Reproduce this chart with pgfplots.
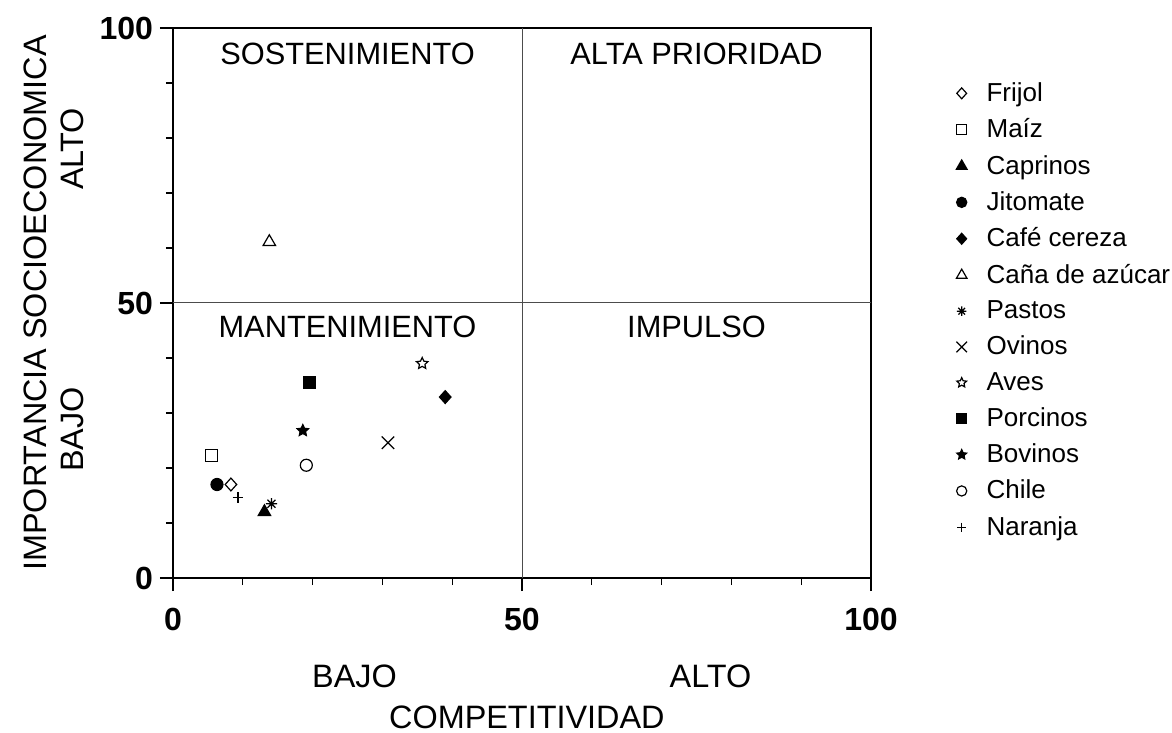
\documentclass[border=0pt]{standalone}
\usepackage{fontspec}
\setmainfont{Liberation Sans}
\usepackage{pgfplots}
\pgfplotsset{compat=1.18}
\usetikzlibrary{plotmarks}

% asterisk with eight arms (+ and x)
\pgfdeclareplotmark{eightstar}{%
  \pgfpathmoveto{\pgfqpoint{-\pgfplotmarksize}{0pt}}\pgfpathlineto{\pgfqpoint{\pgfplotmarksize}{0pt}}%
  \pgfpathmoveto{\pgfqpoint{0pt}{-\pgfplotmarksize}}\pgfpathlineto{\pgfqpoint{0pt}{\pgfplotmarksize}}%
  \pgfpathmoveto{\pgfqpoint{-.7071\pgfplotmarksize}{-.7071\pgfplotmarksize}}\pgfpathlineto{\pgfqpoint{.7071\pgfplotmarksize}{.7071\pgfplotmarksize}}%
  \pgfpathmoveto{\pgfqpoint{-.7071\pgfplotmarksize}{.7071\pgfplotmarksize}}\pgfpathlineto{\pgfqpoint{.7071\pgfplotmarksize}{-.7071\pgfplotmarksize}}%
  \pgfusepathqstroke}

% closed five-pointed star, filled with the fill colour
\pgfdeclareplotmark{fivestar}{%
  \pgfpathmoveto{\pgfpointpolar{90}{\pgfplotmarksize}}%
  \pgfpathlineto{\pgfpointpolar{126}{0.48\pgfplotmarksize}}%
  \pgfpathlineto{\pgfpointpolar{162}{\pgfplotmarksize}}%
  \pgfpathlineto{\pgfpointpolar{198}{0.48\pgfplotmarksize}}%
  \pgfpathlineto{\pgfpointpolar{234}{\pgfplotmarksize}}%
  \pgfpathlineto{\pgfpointpolar{270}{0.48\pgfplotmarksize}}%
  \pgfpathlineto{\pgfpointpolar{306}{\pgfplotmarksize}}%
  \pgfpathlineto{\pgfpointpolar{342}{0.48\pgfplotmarksize}}%
  \pgfpathlineto{\pgfpointpolar{18}{\pgfplotmarksize}}%
  \pgfpathlineto{\pgfpointpolar{54}{0.48\pgfplotmarksize}}%
  \pgfpathclose
  \pgfusepathqfillstroke}

\begin{document}
\begin{tikzpicture}
\begin{axis}[
  scale only axis, width=349pt, height=275pt,
  xmin=0, xmax=100, ymin=0, ymax=100,
  xtick={0,50,100}, ytick={0,50,100},
  minor x tick num=4, minor y tick num=4,
  tick pos=left, tick align=outside,
  major tick length=6.5pt, minor tick length=3.5pt,
  axis line style={line width=0.75pt},
  every tick/.style={line width=0.6pt, black},
  ticklabel style={font=\fontsize{16}{19}\selectfont\bfseries},
  xticklabel style={yshift=-5pt},
  /pgf/number format/assume math mode=true,
  clip=false,
  legend cell align=left,
  legend style={at={(1,1)}, anchor=north west, xshift=39.5pt, yshift=-23pt,
    draw=none, fill=none, font=\fontsize{13}{15.6}\selectfont,
    row sep=3.2pt, column sep=7.8pt},
  legend image post style={scale=0.85},
  every axis plot/.append style={only marks, black, mark size=3pt, line width=0.6pt},
]
\draw[line width=0.5pt, black!70] (axis cs:50,0) -- (axis cs:50,100);
\draw[line width=0.5pt, black!70] (axis cs:0,50) -- (axis cs:100,50);

\addplot[mark=diamond, mark size=3.2pt, mark options={fill=white, xscale=1.2}] coordinates {(8.3,17.0)};
\addlegendentry{Frijol}
\addplot[mark=square, mark options={fill=white}] coordinates {(5.5,22.2)};
\addlegendentry{Maíz}
\addplot[mark=triangle*, mark size=3.6pt] coordinates {(13.1,12.0)};
\addlegendentry{Caprinos}
\addplot[mark=*] coordinates {(6.3,17.0)};
\addlegendentry{Jitomate}
\addplot[mark=diamond*, mark size=3.2pt, mark options={xscale=1.2}] coordinates {(39.0,32.9)};
\addlegendentry{Café cereza}
\addplot[mark=triangle, mark size=3.6pt, mark options={fill=white}] coordinates {(13.8,61.1)};
\addlegendentry{Caña de azúcar}
\addplot[mark=eightstar, mark size=2.8pt] coordinates {(14.1,13.5)};
\addlegendentry{Pastos}
\addplot[mark=x, mark size=4.4pt] coordinates {(30.8,24.6)};
\addlegendentry{Ovinos}
\addplot[mark=fivestar, mark options={fill=white}] coordinates {(35.7,39.0)};
\addlegendentry{Aves}
\addplot[mark=square*] coordinates {(19.5,35.5)};
\addlegendentry{Porcinos}
\addplot[mark=fivestar, mark options={fill=black}] coordinates {(18.6,26.8)};
\addlegendentry{Bovinos}
\addplot[mark=o, mark options={fill=white}] coordinates {(19.1,20.5)};
\addlegendentry{Chile}
\addplot[mark=+, mark size=2.7pt] coordinates {(9.3,14.6)};
\addlegendentry{Naranja}

\begin{scope}[every node/.style={font=\fontsize{15.4}{18}\selectfont}]
\node at (axis cs:25,95.2) {SOSTENIMIENTO};
\node at (axis cs:75,95.2) {ALTA PRIORIDAD};
\node at (axis cs:25,45.6) {MANTENIMIENTO};
\node at (axis cs:75,45.6) {IMPULSO};
\end{scope}

\begin{scope}[every node/.style={font=\fontsize{16.2}{19}\selectfont}]
\node at ([yshift=-49pt]axis cs:26,0) {BAJO};
\node at ([yshift=-49pt]axis cs:77,0) {ALTO};
\node[inner sep=1pt] at ([yshift=-69.5pt]axis cs:50.7,0) {COMPETITIVIDAD};
\node[rotate=90] at ([xshift=-69pt]axis cs:0,50) {IMPORTANCIA SOCIOECONOMICA};
\node[rotate=90] at ([xshift=-50.5pt]axis cs:0,78) {ALTO};
\node[rotate=90] at ([xshift=-50.5pt]axis cs:0,27) {BAJO};
\end{scope}
\end{axis}
\pgfresetboundingbox
\useasboundingbox ([xshift=-86.5pt,yshift=-77.5pt]current axis.south west)
  rectangle ([xshift=150.5pt,yshift=14pt]current axis.north east);
\end{tikzpicture}
\end{document}
